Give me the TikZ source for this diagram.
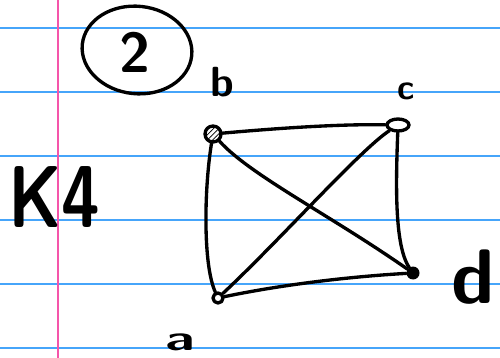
\documentclass[tikz,border=0pt]{standalone}
\usepackage{fontspec}
\usetikzlibrary{shapes.geometric,patterns}
\definecolor{ruleblue}{RGB}{70,165,250}
\definecolor{marginpink}{RGB}{245,85,170}
\tikzset{
  ruled/.style={draw=ruleblue, line width=0.7pt},
  marginline/.style={draw=marginpink, line width=1pt},
  edge/.style={draw=black, line width=1.9pt, line cap=round},
  vtx/.style={circle, draw=black, line width=1.9pt, inner sep=0pt},
  hand/.style={text=black, inner sep=0pt}
}
\begin{document}
\begin{tikzpicture}[x=0.02cm,y=-0.02cm, line join=round]
\useasboundingbox (0,0) rectangle (500,358);
\fill[white] (0,0) rectangle (500,358);
\foreach \yy in {28,92,156,220,284,348} \draw[ruled] (0,\yy) -- (500,\yy);
\draw[marginline] (58,0) -- (58,358);

% title
\node[ellipse, draw=black, line width=1.9pt, minimum width=2.2cm, minimum height=1.75cm, inner sep=0pt, rotate=-6] (circ) at (137,50) {};
\node[hand, font=\sffamily\bfseries\fontsize{32}{32}\selectfont] (two) at (135,52) {2};
\node[hand, font=\sffamily\bfseries\fontsize{50}{50}\selectfont, anchor=west, xscale=0.8] (k4) at (8,197) {K4};

% vertices
\node[vtx, minimum size=0.32cm, pattern=north east lines] (b) at (213,134) {};
\node[ellipse, draw=black, line width=1.9pt, minimum width=0.44cm, minimum height=0.24cm, inner sep=0pt] (c) at (398,125) {};
\node[circle, fill=black, minimum size=0.26cm, inner sep=0pt] (d) at (413,273) {};
\node[vtx, minimum size=0.2cm] (a) at (218,298) {};

% labels
\node[hand, font=\sffamily\bfseries\fontsize{24}{24}\selectfont] (lb) at (222,82) {b};
\node[hand, font=\sffamily\bfseries\fontsize{20}{20}\selectfont] (lc) at (406,91) {c};
\node[hand, font=\sffamily\bfseries\fontsize{44}{44}\selectfont] (ld) at (473,277) {d};
\node[hand, font=\sffamily\bfseries\fontsize{20}{20}\selectfont, xscale=1.6] (la) at (180,342) {a};

% edges
\draw[edge] (b) .. controls (280,128) and (340,124) .. (c);
\draw[edge] (b) .. controls (204,190) and (203,265) .. (a);
\draw[edge] (c) .. controls (396,180) and (394,245) .. (d);
\draw[edge] (a) .. controls (290,283) and (360,276) .. (d);
\draw[edge] (b) .. controls (250,175) and (330,215) .. (d);
\draw[edge] (a) .. controls (280,240) and (360,150) .. (c);
\end{tikzpicture}
\end{document}
